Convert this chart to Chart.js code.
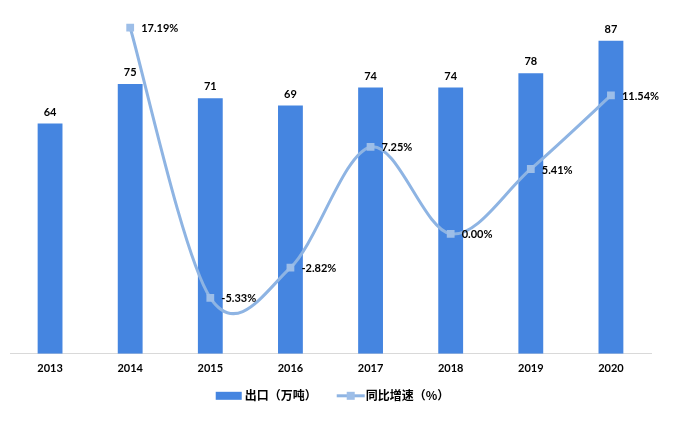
<!DOCTYPE html>
<html>
<head>
<meta charset="utf-8">
<script src="https://cdn.jsdelivr.net/npm/chart.js@4/dist/chart.umd.min.js"></script>
<style>
html,body{margin:0;padding:0;background:#fff;}
#wrap{position:relative;width:673px;height:424px;}
</style>
</head>
<body>
<div id="wrap"><canvas id="c" width="673" height="424"></canvas></div>
<script>
const categories = ['2013','2014','2015','2016','2017','2018','2019','2020'];
const exportValues = [64, 75, 71, 69, 74, 74, 78, 87];
const growthValues = [null, 17.19, -5.33, -2.82, 7.25, 0.00, 5.41, 11.54];
const seriesNames = ['出口（万吨）', '同比增速（%）'];

const barColor = '#4585E0';
const lineColor = '#8EB4E3';
const markerColor = '#9DBEE8';

// Excel-like smoothing (Catmull-Rom style control points)
const smoothPlugin = {
  id: 'excelSmooth',
  beforeDatasetDraw(chart, args){
    if(args.index !== 1) return;
    const meta = args.meta;
    const pts = meta.data.filter((p, i) => growthValues[i] !== null);
    const n = pts.length;
    for(let i = 0; i < n; i++){
      const p = pts[i];
      const prev = pts[Math.max(0, i - 1)];
      const next = pts[Math.min(n - 1, i + 1)];
      const dx = (next.x - prev.x) / 6;
      const dy = (next.y - prev.y) / 6;
      p.cp1x = p.x - dx; p.cp1y = p.y - dy;
      p.cp2x = p.x + dx; p.cp2y = p.y + dy;
    }
    meta.dataset._pointsUpdated = true;
  }
};

const labelPlugin = {
  id: 'valueLabels',
  afterDatasetsDraw(chart){
    const ctx = chart.ctx;
    ctx.save();
    ctx.fillStyle = '#000';
    ctx.font = 'bold 11px Lato, "Liberation Sans", sans-serif';
    const m0 = chart.getDatasetMeta(0);
    ctx.textAlign = 'center';
    ctx.textBaseline = 'bottom';
    m0.data.forEach((el, i) => {
      ctx.fillText(String(exportValues[i]), el.x, el.y - 6);
    });
    const m1 = chart.getDatasetMeta(1);
    ctx.textAlign = 'left';
    ctx.textBaseline = 'middle';
    m1.data.forEach((el, i) => {
      const v = growthValues[i];
      if(v === null || v === undefined) return;
      ctx.fillText(v.toFixed(2) + '%', el.x + 11, el.y + 1);
    });
    ctx.restore();
  }
};

const legendPlugin = {
  id: 'customLegend',
  afterDraw(chart){
    const ctx = chart.ctx;
    ctx.save();
    ctx.font = 'bold 12px "Noto Sans CJK SC", sans-serif';
    ctx.textBaseline = 'middle';
    ctx.textAlign = 'left';
    const y = chart.chartArea.bottom + 42;
    const w0 = ctx.measureText(seriesNames[0]).width;
    const w1 = ctx.measureText(seriesNames[1]).width;
    const total = 26 + 3 + w0 + 20 + 28 + 1 + w1;
    let x = (chart.chartArea.left + chart.chartArea.right) / 2 + 2 - total / 2;
    ctx.fillStyle = barColor;
    ctx.fillRect(x, y - 4, 26, 8);
    x += 29;
    ctx.fillStyle = '#000';
    ctx.fillText(seriesNames[0], x, y);
    x += w0 + 20;
    ctx.strokeStyle = lineColor;
    ctx.lineWidth = 3;
    ctx.beginPath(); ctx.moveTo(x, y); ctx.lineTo(x + 28, y); ctx.stroke();
    ctx.fillStyle = markerColor;
    ctx.fillRect(x + 10, y - 4, 8, 8);
    x += 29;
    ctx.fillStyle = '#000';
    ctx.fillText(seriesNames[1], x, y);
    ctx.restore();
  }
};

new Chart(document.getElementById('c'), {
  data: {
    labels: categories,
    datasets: [
      {
        type: 'bar',
        label: seriesNames[0],
        data: exportValues,
        backgroundColor: barColor,
        borderWidth: 0,
        yAxisID: 'y',
        categoryPercentage: 1,
        barPercentage: 0.31,
        order: 2
      },
      {
        type: 'line',
        label: seriesNames[1],
        data: growthValues,
        borderColor: lineColor,
        backgroundColor: markerColor,
        borderWidth: 3,
        tension: 0.4,
        pointStyle: 'rect',
        pointRadius: 5.5,
        pointBackgroundColor: markerColor,
        pointBorderColor: markerColor,
        pointBorderWidth: 0,
        yAxisID: 'y1',
        order: 1
      }
    ]
  },
  options: {
    responsive: false,
    animation: false,
    layout: { padding: { left: 10, right: 22, top: 12, bottom: 41 } },
    plugins: {
      tooltip: { enabled: false },
      legend: { display: false }
    },
    scales: {
      x: {
        grid: { display: false, drawTicks: false },
        border: { display: true, color: '#D9D9D9', width: 1 },
        ticks: {
          color: '#000',
          padding: 8,
          font: { family: 'Lato, "Liberation Sans", sans-serif', size: 11, weight: 'bold' }
        }
      },
      y: {
        display: false,
        min: 0,
        max: 95
      },
      y1: {
        display: false,
        position: 'right',
        min: -10,
        max: 18.5
      }
    }
  },
  plugins: [smoothPlugin, labelPlugin, legendPlugin]
});
</script>
</body>
</html>
